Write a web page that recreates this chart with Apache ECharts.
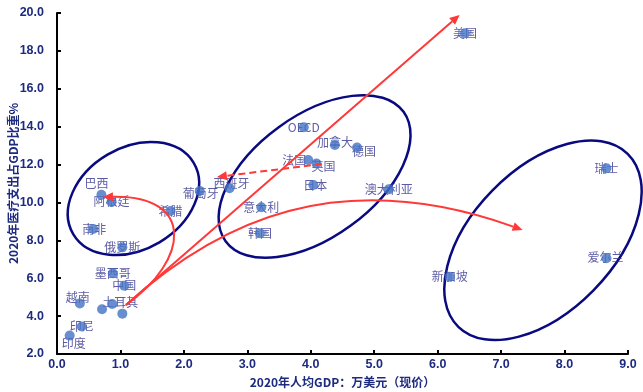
<!DOCTYPE html>
<html>
<head>
<meta charset="utf-8">
<script src="https://cdn.jsdelivr.net/npm/echarts@6/dist/echarts.min.js"></script>
<style>
html,body{margin:0;padding:0;background:#fff;}
#container1{width:643px;height:392px;}
</style>
</head>
<body>
<div id="container1"></div>
<script>
// 国家/地区
var names = ['印度','印尼','越南','土耳其','','','中国','墨西哥','俄罗斯','南非','巴西','阿根廷','希腊','葡萄牙','西班牙','意大利','韩国','日本','法国','英国','加拿大','德国','OECD','澳大利亚','新加坡','瑞士','爱尔兰','美国'];
// 2020年人均GDP，万美元
var gdp = [0.20, 0.39, 0.36, 0.87, 0.71, 1.03, 1.06, 0.88, 1.03, 0.57, 0.70, 0.86, 1.79, 2.25, 2.72, 3.22, 3.20, 4.04, 3.96, 4.09, 4.38, 4.73, 3.89, 5.23, 6.19, 8.66, 8.66, 6.43];
// 2020年医疗支出占GDP比重 %
var health = [2.97, 3.45, 4.67, 4.64, 4.36, 4.13, 5.60, 6.26, 7.63, 8.60, 10.40, 10.03, 9.55, 10.60, 10.75, 9.75, 8.37, 10.92, 12.24, 12.06, 13.03, 12.90, 13.97, 10.69, 6.08, 11.80, 7.05, 18.93];
var xTicks = [0, 9, 1];
var yTicks = [2, 20, 2];

// 标签偏移 px
var labelOffset = [[4,8],[0,0],[-2,-6],[8,-2],[0,0],[0,0],[0,0],[0,0],[0,0],[1,0],[-5,-11],[0,0],[0,0],[1,2],[2,-5],[0,0],[0,0],[2,0],[-14,0],[7,3],[0,-3],[7,4],[0,0],[0,0],[0,0],[0,0],[-1,-1],[0,0]];

// 椭圆：中心(数据坐标)，半轴px，旋转角
var ellipses = [
	{c:[1.205, 10.21], rx:70, ry:51, rot:30.6},
	{c:[4.06, 11.37], rx:110, ry:61, rot:36},
	{c:[7.66, 8.0], rx:121, ry:71, rot:45.6}
];
// 箭头：2点直线，4点三次贝塞尔
var arrows = [
	{pts:[[1.087,4.59],[6.346,19.9]], dashed:false},
	{pts:[[1.087,4.59],[2.567,9.075],[4.457,11.98],[7.339,8.547]], dashed:false},
	{pts:[[1.087,4.59],[2.094,6.963],[2.173,10.395],[0.724,10.29]], dashed:false},
	{pts:[[4.173,12.03],[2.52,11.345]], dashed:true}
];

var navy = '#1c2a80';
var red = '#ff3838';

var pts = [];
for (var i = 0; i < names.length; i++) {
	pts.push({
		name: names[i],
		value: [gdp[i], health[i]],
		label: {offset: labelOffset[i]}
	});
}

var myChart = echarts.init(document.getElementById('container1'));

function renderEllipse(params, api) {
	var e = ellipses[params.dataIndex];
	var c = api.coord(e.c);
	return {
		type: 'ellipse',
		x: c[0], y: c[1],
		rotation: e.rot * Math.PI / 180,
		shape: {cx: 0, cy: 0, rx: e.rx, ry: e.ry},
		style: {fill: 'none', stroke: '#0a0a80', lineWidth: 2.5}
	};
}

function renderArrow(params, api) {
	var a = arrows[params.dataIndex];
	var p = a.pts.map(function (v) { return api.coord(v); });
	var n = p.length;
	var tip = p[n - 1], prev = p[n - 2];
	var ang = Math.atan2(tip[1] - prev[1], tip[0] - prev[0]);
	var L = 10, W = 4.5;
	var bx = tip[0] - L * Math.cos(ang), by = tip[1] - L * Math.sin(ang);
	var head = [
		[tip[0], tip[1]],
		[bx - W * Math.sin(ang), by + W * Math.cos(ang)],
		[bx + W * Math.sin(ang), by - W * Math.cos(ang)]
	];
	var st = {fill: 'none', stroke: red, lineWidth: 2, lineDash: a.dashed ? [7, 4] : null};
	var body;
	if (n === 4) {
		body = {type: 'bezierCurve', shape: {x1: p[0][0], y1: p[0][1], cpx1: p[1][0], cpy1: p[1][1], cpx2: p[2][0], cpy2: p[2][1], x2: bx, y2: by}, style: st};
	} else {
		body = {type: 'line', shape: {x1: p[0][0], y1: p[0][1], x2: bx, y2: by}, style: st};
	}
	return {type: 'group', children: [body, {type: 'polygon', shape: {points: head}, style: {fill: red}}]};
}

var axisCommon = {
	splitLine: {show: false},
	axisLine: {lineStyle: {color: '#000', width: 2}},
	axisTick: {inside: true, length: 4, lineStyle: {color: '#000', width: 2}},
	nameMoveOverlap: false,
	nameTextStyle: {color: navy, fontWeight: 'bold', fontSize: 12, fontFamily: 'Noto Sans CJK SC'}
};

var option = {
	animation: false,
	grid: {left: 57, right: 15, top: 13, bottom: 38, containLabel: false, outerBoundsMode: 'none'},
	xAxis: Object.assign({}, axisCommon, {
		type: 'value',
		min: xTicks[0], max: xTicks[1], interval: xTicks[2],
		name: '2020年人均GDP：万美元（现价）',
		nameLocation: 'middle',
		nameGap: 22,
		axisLabel: {color: navy, fontWeight: 'bold', fontSize: 12.5, fontFamily: 'Liberation Sans', margin: 4,
			formatter: function (v) { return v.toFixed(1); }}
	}),
	yAxis: Object.assign({}, axisCommon, {
		type: 'value',
		min: yTicks[0], max: yTicks[1], interval: yTicks[2],
		name: '2020年医疗支出占GDP比重%',
		nameLocation: 'middle',
		nameGap: 38,
		axisLabel: {color: navy, fontWeight: 'bold', fontSize: 12.5, fontFamily: 'Liberation Sans', margin: 13,
			formatter: function (v) { return v.toFixed(1); }}
	}),
	series: [
		//椭圆
		{
			type: 'custom',
			z: 1,
			renderItem: renderEllipse,
			data: ellipses.map(function (e) { return e.c; }),
			silent: true
		},
		//标签
		{
			type: 'scatter',
			z: 2,
			symbolSize: 1,
			itemStyle: {color: 'rgba(0,0,0,0)'},
			label: {
				show: true,
				position: 'inside',
				formatter: '{b}',
				color: '#33338f',
				fontSize: 12,
				fontFamily: 'Noto Sans CJK SC'
			},
			data: pts
		},
		//散点
		{
			type: 'scatter',
			z: 3,
			symbolSize: 10,
			itemStyle: {color: '#4472c4'},
			data: gdp.map(function (g, i) { return [g, health[i]]; })
		},
		//箭头
		{
			type: 'custom',
			z: 4,
			renderItem: renderArrow,
			data: arrows.map(function (a) { return a.pts[0]; }),
			silent: true
		}
	]
};

myChart.setOption(option, true);
window.addEventListener('resize', function () { myChart.resize(); });
</script>
</body>
</html>
